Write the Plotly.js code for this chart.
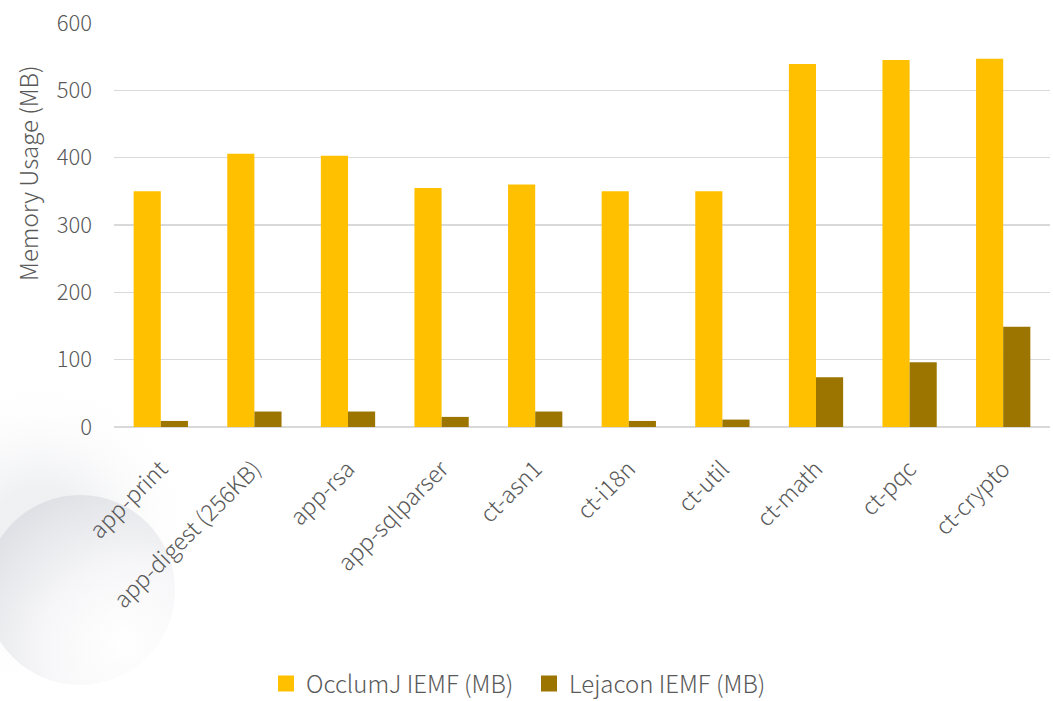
<!DOCTYPE html>
<html>
<head>
<meta charset="utf-8">
<script src="https://cdn.plot.ly/plotly-3.0.1.min.js"></script>
<style>
html,body{margin:0;padding:0;background:#fff;}
#chart{width:1053px;height:701px;}
</style>
</head>
<body>
<div id="chart"></div>
<script>
const categories = ["app-print", "app-digest (256KB)", "app-rsa", "app-sqlparser", "ct-asn1", "ct-i18n", "ct-util", "ct-math", "ct-pqc", "ct-crypto"];
const occlumj = [350, 406, 403, 355, 360, 350, 350, 539, 545, 547];
const lejacon = [9, 23, 23, 15, 23, 9, 11, 74, 96, 149];
const seriesNames = ["OcclumJ IEMF (MB)", "Lejacon IEMF (MB)"];
const seriesColors = ["#FFC000", "#9C7500"];
const yTicks = [0, 100, 200, 300, 400, 500, 600];
const yTitle = "Memory Usage (MB)";

const font = "'Noto Sans CJK KR', 'Noto Sans', sans-serif";
const textColor = "#595959";

const sphereSvg = `<svg xmlns="http://www.w3.org/2000/svg" width="400" height="400" viewBox="0 0 400 400">
<defs>
<radialGradient id="halo" cx="0.5" cy="0.5" r="0.5">
<stop offset="0.3" stop-color="#e6e7eb" stop-opacity="0.6"/>
<stop offset="1" stop-color="#ffffff" stop-opacity="0"/>
</radialGradient>
<radialGradient id="ball" cx="0.7" cy="0.75" r="0.8" fx="0.72" fy="0.78">
<stop offset="0" stop-color="#ffffff" stop-opacity="1"/>
<stop offset="0.5" stop-color="#f6f6f8" stop-opacity="1"/>
<stop offset="0.85" stop-color="#e4e5e9" stop-opacity="1"/>
<stop offset="1" stop-color="#dcdde2" stop-opacity="1"/>
</radialGradient>
</defs>
<circle cx="160" cy="160" r="160" fill="url(#halo)"/>
<circle cx="200" cy="215" r="95" fill="url(#ball)" opacity="0.8"/>
</svg>`;
const sphereUri = "data:image/svg+xml;charset=utf-8," + encodeURIComponent(sphereSvg);

const traces = [
  {type: "bar", name: seriesNames[0], x: categories, y: occlumj, marker: {color: seriesColors[0]}, showlegend: false},
  {type: "bar", name: seriesNames[1], x: categories, y: lejacon, marker: {color: seriesColors[1]}, showlegend: false},
  {type: "scatter", mode: "markers", name: seriesNames[0], x: [null], y: [null], marker: {symbol: "square", size: 18, color: seriesColors[0]}, showlegend: true},
  {type: "scatter", mode: "markers", name: seriesNames[1], x: [null], y: [null], marker: {symbol: "square", size: 18, color: seriesColors[1]}, showlegend: true}
];

const layout = {
  width: 1053, height: 701,
  margin: {l: 114, r: 3, t: 23, b: 274, autoexpand: false},
  paper_bgcolor: "#ffffff",
  plot_bgcolor: "rgba(0,0,0,0)",
  barmode: "group",
  bargap: 0.42,
  bargroupgap: 0,
  font: {family: font, color: textColor, size: 22, weight: 300},
  xaxis: {
    tickangle: -45,
    tickfont: {family: font, size: 23, color: textColor, weight: 300},
    ticklabelstandoff: 23,
    showline: false, ticks: "", showgrid: false,
    automargin: false
  },
  yaxis: {
    range: [0, 600],
    tickvals: yTicks,
    ticktext: yTicks.map(String),
    tickfont: {family: font, size: 22, color: textColor, weight: 300},
    ticklabelstandoff: 21,
    gridcolor: "#d9d9d9", gridwidth: 1.5,
    zeroline: true, zerolinecolor: "#d9d9d9", zerolinewidth: 1.5,
    showline: false, ticks: "", ticklen: 0,
    automargin: false
  },
  annotations: [{
    text: yTitle, xref: "paper", yref: "paper",
    x: (27 - 114) / 936, y: (427 - 173) / 404,
    xanchor: "center", yanchor: "middle", textangle: -90, showarrow: false,
    font: {family: font, size: 24, color: textColor, weight: 300}
  }],
  legend: {
    orientation: "h", x: (266 - 114) / 936, xanchor: "left", y: -0.636, yanchor: "middle",
    font: {family: font, size: 24, color: textColor, weight: 300},
    entrywidth: 218, entrywidthmode: "pixels",
    itemwidth: 30, traceorder: "normal", itemsizing: "trace", tracegroupgap: 0
  },
  showlegend: true,
  images: [{
    source: sphereUri, xref: "paper", yref: "paper",
    x: (-114 - 120) / 936, y: (427 - 375) / 404,
    sizex: 400 / 936, sizey: 400 / 404,
    xanchor: "left", yanchor: "top", layer: "below", sizing: "stretch", opacity: 1
  }]
};

Plotly.newPlot("chart", traces, layout, {displayModeBar: false, staticPlot: true});
</script>
</body>
</html>
